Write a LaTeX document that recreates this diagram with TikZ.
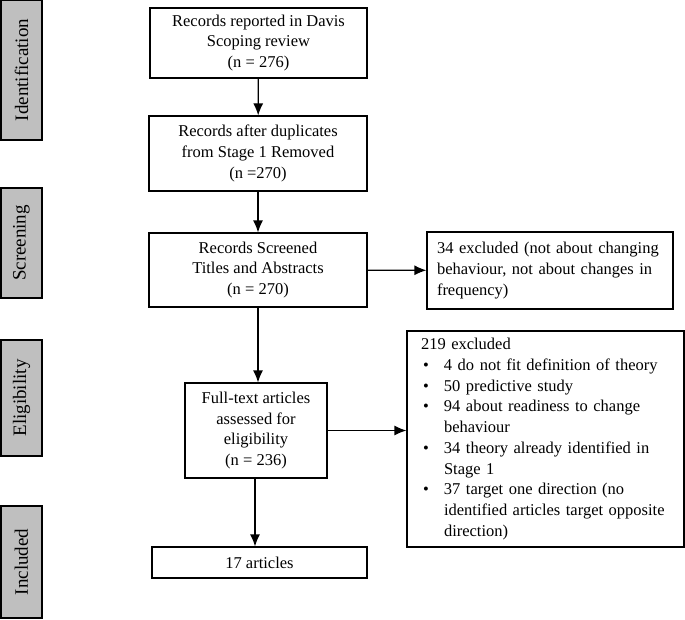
\documentclass[tikz,border=0pt]{standalone}
\usepackage{fontspec}
\setmainfont{Liberation Serif}
\usetikzlibrary{shapes,arrows,arrows.meta}
\tikzstyle{stage} = [rectangle, draw, line width=2pt, fill=black!25,
    rotate=90, minimum width=140pt, minimum height=41pt, inner sep=0pt,
    font=\fontsize{19}{22}\selectfont]
\tikzstyle{block} = [rectangle, draw, line width=1.2pt, align=center,
    inner sep=0pt]
\tikzstyle{excl} = [rectangle, draw, line width=1.2pt, align=left,
    inner ysep=0pt]
\tikzstyle{line} = [draw, line width=1.2pt, -{Latex[length=12pt,width=10pt]}]
\newcommand{\bitem}[1]{\makebox[23pt][l]{\hspace{2pt}\textbullet}#1}
\newcommand{\bcont}[1]{\makebox[23pt][l]{}#1}

\begin{document}
\begin{tikzpicture}[x=1pt, y=-1pt, font=\fontsize{16.5}{20.7}\selectfont]
    \useasboundingbox (0,0) rectangle (685,619);
    % stage labels
    \node[stage] (ident) at (21.5,70) {Identification};
    \node[stage, minimum width=110pt] (screen) at (21.5,243) {Screening};
    \node[stage, minimum width=116pt] (elig) at (21.5,398) {Eligibility};
    \node[stage, minimum width=112pt] (incl) at (21.5,562) {Included};

    % main column
    \node[block, minimum width=217pt, minimum height=70pt] (davis) at (258.5,43)
        {Records reported in Davis\\Scoping review\\(n = 276)};
    \node[block, minimum width=218pt, minimum height=75pt] (dup) at (258,153.5)
        {Records after duplicates\\from Stage 1 Removed\\(n =270)};
    \node[block, minimum width=218pt, minimum height=74pt] (screened) at (258,270)
        {Records Screened\\Titles and Abstracts\\(n = 270)};
    \node[block, minimum width=142pt, minimum height=95pt] (fulltext) at (256,430.5)
        {Full-text articles\\assessed for\\eligibility\\(n = 236)};
    \node[block, minimum width=215pt, minimum height=31pt] (articles) at (259.5,562.5)
        {17 articles};

    % exclusions
    \node[excl, inner xsep=10pt, text width=226pt, minimum height=77pt] (ex1) at (550,270.5)
        {34 excluded (not about changing\\behaviour, not about changes in\\frequency)};
    \node[excl, inner xsep=14pt, text width=249pt, minimum height=216pt] (ex2) at (545.5,439)
        {219 excluded\\
         \bitem{4 do not fit definition of theory}\\
         \bitem{50 predictive study}\\
         \bitem{94 about readiness to change}\\
         \bcont{behaviour}\\
         \bitem{34 theory already identified in}\\
         \bcont{Stage 1}\\
         \bitem{37 target one direction (no}\\
         \bcont{identified articles target opposite}\\
         \bcont{direction)}};

    \path[line] (davis) -- (dup);
    \path[line] (dup) -- (screened);
    \path[line] (screened) -- (fulltext.north -| screened);
    \path[line] (screened) -- (ex1);
    \path[line] (fulltext) -- (fulltext -| ex2.west);
    \path[line] (fulltext.south -| 255,0) -- (articles.north -| 255,0);
\end{tikzpicture}
\end{document}
